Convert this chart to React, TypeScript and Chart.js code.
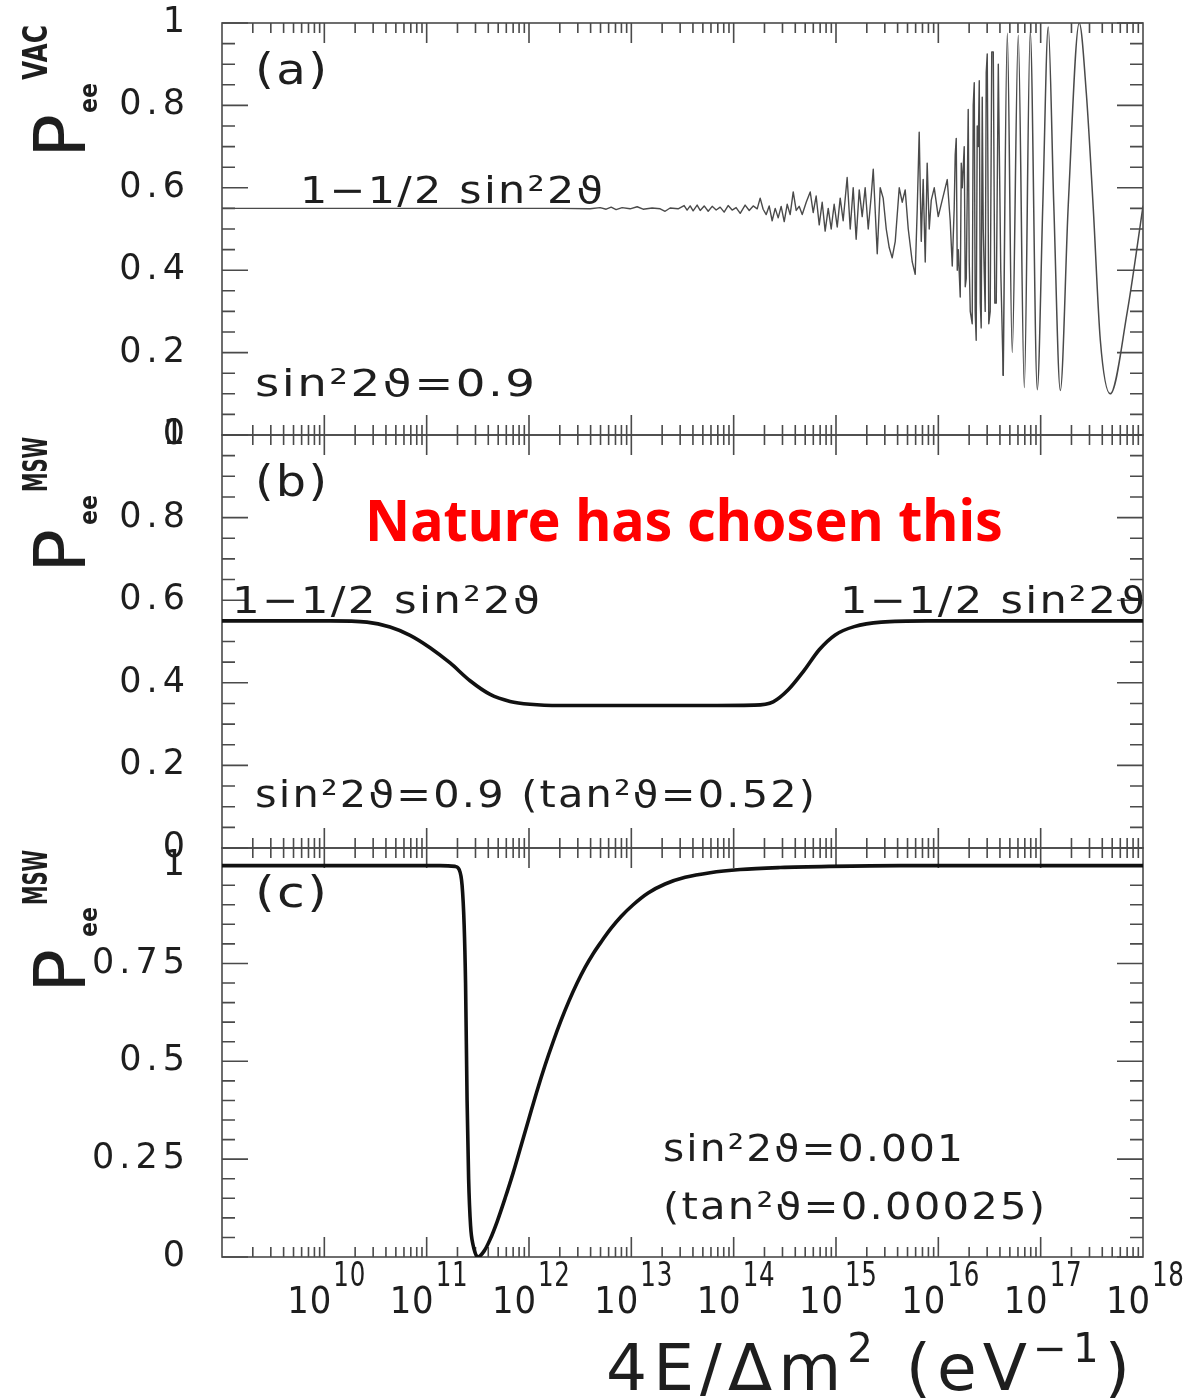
import React, { useEffect, useRef } from "react";
import { Chart, registerables } from "chart.js";

Chart.register(...registerables);

const FONT = "'DejaVu Sans', 'Liberation Sans', sans-serif";
const RED_FONT = "'Noto Sans', 'Open Sans', sans-serif";
const TEXT_COLOR = "#1e1e1e";
const FRAME_COLOR = "#4a4a4a";

// x axis: 4E/Δm² in eV^-1, stored as decimal exponents (x = 10^e)
const X_MIN_EXP = 9;
const X_MAX_EXP = 18;
const xTickExponents = [10, 11, 12, 13, 14, 15, 16, 17, 18];
const yTicksAB = [0, 0.2, 0.4, 0.6, 0.8, 1];
const yTicksC = [0, 0.25, 0.5, 0.75, 1];

// (a) vacuum oscillation, fast / aliased part
const vacNoisyExp = [
  9.0, 10.74, 12.304, 12.597, 12.695, 12.754, 12.803, 12.851, 12.91, 12.988,
  13.057, 13.115, 13.203, 13.282, 13.33, 13.379, 13.457, 13.516, 13.545, 13.575,
  13.604, 13.643, 13.673, 13.712, 13.751, 13.79, 13.829, 13.868, 13.907, 13.946,
  13.985, 14.024, 14.064, 14.112, 14.152, 14.191, 14.23, 14.259, 14.288, 14.318,
  14.347, 14.376, 14.406, 14.435, 14.464, 14.494, 14.523, 14.552, 14.582, 14.611,
  14.64, 14.67, 14.709, 14.748, 14.777, 14.806, 14.836, 14.865, 14.894, 14.924,
  14.953, 14.982, 15.012, 15.041, 15.07, 15.109, 15.139, 15.168, 15.197, 15.227,
  15.256, 15.285, 15.315, 15.344, 15.364, 15.403, 15.432, 15.461, 15.491, 15.52,
  15.549, 15.579, 15.618, 15.647, 15.676, 15.706, 15.745, 15.774, 15.794, 15.813,
  15.833, 15.852, 15.872, 15.891, 15.911, 15.931, 15.96, 15.999, 16.038, 16.087,
  16.116, 16.136, 16.155, 16.165, 16.175, 16.185, 16.195, 16.214, 16.224, 16.234,
  16.253, 16.263, 16.273, 16.292, 16.302, 16.312, 16.331, 16.341, 16.351, 16.36,
  16.37, 16.38, 16.39, 16.4, 16.41, 16.419, 16.429, 16.439, 16.448, 16.458,
  16.468, 16.478, 16.493, 16.507, 16.522, 16.537, 16.552, 16.566, 16.586, 16.61, 16.634,
];
const vacNoisyP = [
  0.55, 0.55, 0.55, 0.549, 0.552, 0.548, 0.553, 0.547, 0.552, 0.549,
  0.554, 0.548, 0.551, 0.549, 0.543, 0.551, 0.549, 0.557, 0.546, 0.556,
  0.544, 0.558, 0.545, 0.556, 0.543, 0.555, 0.546, 0.553, 0.541, 0.557,
  0.546, 0.552, 0.538, 0.558, 0.545, 0.556, 0.549, 0.575, 0.548, 0.535,
  0.556, 0.52, 0.55, 0.527, 0.555, 0.518, 0.56, 0.535, 0.59, 0.545,
  0.555, 0.535, 0.565, 0.59, 0.54, 0.58, 0.51, 0.565, 0.495, 0.55,
  0.5, 0.56, 0.505, 0.575, 0.52, 0.625, 0.5, 0.6, 0.475, 0.595,
  0.53, 0.6, 0.5, 0.58, 0.645, 0.44, 0.6, 0.575, 0.5, 0.455,
  0.43, 0.47, 0.6, 0.565, 0.595, 0.5, 0.42, 0.39, 0.55, 0.735,
  0.47, 0.62, 0.42, 0.66, 0.5, 0.57, 0.6, 0.53, 0.57, 0.62,
  0.52, 0.41, 0.55, 0.68, 0.72, 0.4, 0.45, 0.335, 0.66, 0.6,
  0.7, 0.36, 0.38, 0.79, 0.42, 0.3, 0.27, 0.8, 0.855, 0.3,
  0.23, 0.75, 0.7, 0.86, 0.32, 0.26, 0.82, 0.5, 0.4, 0.3,
  0.88, 0.925, 0.27, 0.3, 0.93, 0.93, 0.32, 0.32, 0.9, 0.4, 0.145,
];

// (a) vacuum oscillation, slow resolved part
const vacSmoothExp = [
  16.634, 16.674, 16.722, 16.781, 16.84, 16.898, 16.967, 17.021, 17.074, 17.128,
  17.192, 17.27, 17.377, 17.446, 17.514, 17.583, 17.68, 17.847, 18.0,
];
const vacSmoothP = [
  0.145, 0.975, 0.2, 0.97, 0.115, 0.98, 0.11, 0.56, 0.99, 0.56,
  0.108, 0.56, 1.0, 0.83, 0.55, 0.23, 0.1, 0.3, 0.555,
];

// (b) MSW, sin²2ϑ = 0.9
const mswLargeExp = [
  9.0, 10.056, 10.417, 10.642, 10.838, 11.033, 11.229, 11.424, 11.62, 11.815,
  12.011, 12.304, 13.673, 14.2, 14.386, 14.533, 14.689, 14.836, 14.992, 15.178,
  15.442, 15.891, 18.0,
];
const mswLargeP = [
  0.55, 0.55, 0.547, 0.535, 0.515, 0.485, 0.448, 0.405, 0.372, 0.355,
  0.348, 0.345, 0.345, 0.346, 0.354, 0.383, 0.43, 0.48, 0.516, 0.536,
  0.547, 0.55, 0.55,
];

// (c) MSW, sin²2ϑ = 0.001
const mswSmallExp = [
  9.0, 11.131, 11.278, 11.317, 11.346, 11.366, 11.38, 11.395, 11.41, 11.429,
  11.454, 11.502, 11.561, 11.62, 11.688, 11.766, 11.845, 11.923, 12.001, 12.079,
  12.157, 12.236, 12.314, 12.392, 12.47, 12.548, 12.627, 12.705, 12.803, 12.9,
  13.018, 13.164, 13.33, 13.526, 13.77, 14.064, 14.455, 14.943, 15.628, 18.0,
];
const mswSmallP = [
  1.0, 1.0, 0.998, 0.99, 0.95, 0.85, 0.7, 0.4, 0.2, 0.08,
  0.03, 0.0, 0.015, 0.045, 0.09, 0.15, 0.215, 0.285, 0.355, 0.425,
  0.49, 0.55, 0.605, 0.655, 0.7, 0.74, 0.775, 0.805, 0.84, 0.87,
  0.9, 0.93, 0.953, 0.97, 0.982, 0.99, 0.995, 0.998, 1.0, 1.0,
];

const toPoints = (ex: number[], p: number[]) =>
  ex.map((e, i) => ({ x: Math.pow(10, e), y: p[i] }));

// draw text stretched horizontally to a given width
function drawFit(
  ctx: CanvasRenderingContext2D,
  s: string,
  x: number,
  y: number,
  size: number,
  width: number,
  ls = 2,
  family = FONT,
  weight = "normal",
  color = TEXT_COLOR
) {
  ctx.save();
  ctx.font = `${weight} ${size}px ${family}`;
  (ctx as any).letterSpacing = `${ls}px`;
  ctx.fillStyle = color;
  ctx.textAlign = "left";
  ctx.textBaseline = "alphabetic";
  const w = ctx.measureText(s).width - ls;
  ctx.translate(x, y);
  ctx.scale(width / w, 1);
  ctx.fillText(s, 0, 0);
  ctx.restore();
}

function drawRotated(
  ctx: CanvasRenderingContext2D,
  s: string,
  xBase: number,
  yStart: number,
  font: string,
  targetLen: number
) {
  ctx.save();
  ctx.translate(xBase, yStart);
  ctx.rotate(-Math.PI / 2);
  ctx.font = font;
  (ctx as any).letterSpacing = "0px";
  const w = ctx.measureText(s).width;
  ctx.scale(targetLen / w, 1);
  ctx.fillStyle = TEXT_COLOR;
  ctx.textAlign = "left";
  ctx.textBaseline = "alphabetic";
  ctx.fillText(s, 0, 0);
  ctx.restore();
}

function drawYTitle(
  ctx: CanvasRenderingContext2D,
  T: number,
  sup: string,
  pOff: number,
  eeOff: number,
  supOff: number
) {
  drawRotated(ctx, "P", 85, T + pOff, `72px ${FONT}`, 44);
  drawRotated(ctx, "ee", 97, T + eeOff, `bold 24px ${FONT}`, 30);
  drawRotated(ctx, sup, 47, T + supOff, `bold 34px ${FONT}`, 55);
}

type PanelDef = {
  id: string;
  top: number;
  height: number;
  padTop: number;
  padBottom: number;
  yMax: number;
  yTicks: number[];
  datasets: any[];
  decorate: (ctx: CanvasRenderingContext2D, area: any, chart: any) => void;
};

function drawFrameAndTicks(chart: any, panel: PanelDef) {
  const { ctx, chartArea: a, scales } = chart;
  const xs = scales.x;
  const ys = scales.y;
  ctx.save();
  ctx.letterSpacing = "0px";
  ctx.strokeStyle = FRAME_COLOR;
  ctx.lineWidth = 1.6;
  ctx.strokeRect(a.left, a.top, a.right - a.left, a.bottom - a.top);
  ctx.beginPath();
  const step = 0.05;
  for (let i = 0; i * step <= panel.yMax + 1e-9; i++) {
    const v = Math.round(i * step * 1000) / 1000;
    const major = panel.yTicks.some((t) => Math.abs(t - v) < 1e-6);
    const len = major ? 26 : 13;
    const py = ys.getPixelForValue(v);
    ctx.moveTo(a.left, py);
    ctx.lineTo(a.left + len, py);
    ctx.moveTo(a.right, py);
    ctx.lineTo(a.right - len, py);
  }
  for (let e = X_MIN_EXP; e < X_MAX_EXP; e++) {
    for (let k = 1; k <= 9; k++) {
      if (e === X_MIN_EXP && k === 1) continue;
      const px = xs.getPixelForValue(k * Math.pow(10, e));
      const len = k === 1 ? 20 : 10;
      ctx.moveTo(px, a.top);
      ctx.lineTo(px, a.top + len);
      ctx.moveTo(px, a.bottom);
      ctx.lineTo(px, a.bottom - len);
    }
  }
  ctx.stroke();
  ctx.restore();
}

const lineBase = {
  pointRadius: 0,
  fill: false,
  borderJoinStyle: "round",
  borderCapStyle: "round",
};

const FORMULA = "1\u22121/2 sin\u00b22\u03d1";

const panels: PanelDef[] = [
  {
    id: "a",
    top: 0,
    height: 470,
    padTop: 23,
    padBottom: 35,
    yMax: 1,
    yTicks: yTicksAB,
    datasets: [
      {
        ...lineBase,
        data: toPoints(vacNoisyExp, vacNoisyP),
        borderColor: "#4a4a4a",
        borderWidth: 1.4,
        tension: 0,
      },
      {
        ...lineBase,
        data: toPoints(vacSmoothExp, vacSmoothP),
        borderColor: "#4a4a4a",
        borderWidth: 1.5,
        cubicInterpolationMode: "monotone",
      },
    ],
    decorate: (ctx, a) => {
      const L = a.left;
      const T = a.top;
      drawFit(ctx, "(a)", L + 33, T + 61, 42, 72);
      drawFit(ctx, FORMULA, L + 78, T + 180, 38, 303);
      drawFit(ctx, "sin\u00b22\u03d1=0.9", L + 33, T + 373, 38, 280);
      drawYTitle(ctx, T, "VAC", 135, 90, 57);
    },
  },
  {
    id: "b",
    top: 400,
    height: 480,
    padTop: 35,
    padBottom: 32,
    yMax: 1,
    yTicks: yTicksAB,
    datasets: [
      {
        ...lineBase,
        data: toPoints(mswLargeExp, mswLargeP),
        borderColor: "#111111",
        borderWidth: 3.6,
        cubicInterpolationMode: "monotone",
      },
    ],
    decorate: (ctx, a) => {
      const L = a.left;
      const T = a.top;
      drawFit(ctx, "(b)", L + 33, T + 61, 42, 72);
      drawFit(ctx, FORMULA, L + 10, T + 178, 38, 308);
      drawFit(ctx, FORMULA, L + 618, T + 178, 38, 305);
      drawFit(ctx, "sin\u00b22\u03d1=0.9 (tan\u00b2\u03d1=0.52)", L + 33, T + 372, 38, 560);
      drawFit(ctx, "Nature has chosen this", L + 143, T + 106, 57, 638, 0, RED_FONT, "bold", "#ff0000");
      drawYTitle(ctx, T, "MSW", 138, 90, 57);
    },
  },
  {
    id: "c",
    top: 815,
    height: 584,
    padTop: 33,
    padBottom: 142,
    yMax: 1.045,
    yTicks: yTicksC,
    datasets: [
      {
        ...lineBase,
        data: toPoints(mswSmallExp, mswSmallP),
        borderColor: "#111111",
        borderWidth: 3.6,
        cubicInterpolationMode: "monotone",
      },
    ],
    decorate: (ctx, a, chart) => {
      const L = a.left;
      const T = a.top;
      const B = a.bottom;
      drawFit(ctx, "(c)", L + 33, T + 59, 42, 72);
      drawFit(ctx, "sin\u00b22\u03d1=0.001", L + 441, T + 313, 38, 300);
      drawFit(ctx, "(tan\u00b2\u03d1=0.00025)", L + 441, T + 371, 38, 382);
      drawYTitle(ctx, T, "MSW", 145, 89, 57);
      // x tick labels 10^n
      const xs = chart.scales.x;
      for (const e of xTickExponents) {
        const px = xs.getPixelForValue(Math.pow(10, e));
        const w1 = 44;
        const w2 = 32;
        const start = px - (w1 + w2) / 2 + 1;
        drawFit(ctx, "10", start, B + 56, 38, w1, 1);
        drawFit(ctx, String(e), start + w1 + 2, B + 29, 33, w2, 1);
      }
      // x axis title: 4E/Δm² (eV⁻¹)
      const parts: [string, number, number][] = [
        ["4E/\u0394m", 64, 0],
        ["2", 40, -28],
        [" (eV", 64, 0],
        ["\u22121", 40, -28],
        [")", 64, 0],
      ];
      const ls = 6;
      const widths = parts.map(([s, size]) => {
        ctx.font = `${size}px ${FONT}`;
        (ctx as any).letterSpacing = `${ls}px`;
        return ctx.measureText(s).width;
      });
      const total = widths.reduce((p, c) => p + c, 0);
      const k = 530 / total;
      let x = 606;
      parts.forEach(([s, size, dy], i) => {
        drawFit(ctx, s, x, B + 133 + dy, size, (widths[i] - ls) * k, ls);
        x += widths[i] * k;
      });
    },
  },
];

function PanelCanvas({ panel }: { panel: PanelDef }) {
  const ref = useRef<HTMLCanvasElement | null>(null);
  useEffect(() => {
    const canvas = ref.current;
    if (!canvas) return;
    const decor = {
      id: "decor-" + panel.id,
      beforeDraw(chart: any) {
        chart.ctx.letterSpacing = "5px";
      },
      beforeDatasetsDraw(chart: any) {
        chart.ctx.letterSpacing = "0px";
        drawFrameAndTicks(chart, panel);
      },
      afterDraw(chart: any) {
        const ctx = chart.ctx;
        ctx.save();
        panel.decorate(ctx, chart.chartArea, chart);
        ctx.restore();
        ctx.letterSpacing = "0px";
      },
    };
    const chart = new Chart(canvas, {
      type: "line",
      data: { datasets: panel.datasets },
      options: {
        animation: false,
        responsive: false,
        maintainAspectRatio: false,
        devicePixelRatio: 1,
        events: [],
        layout: {
          padding: { left: 0, right: 61, top: panel.padTop, bottom: panel.padBottom },
        },
        plugins: {
          legend: { display: false },
          tooltip: { enabled: false },
        },
        scales: {
          x: {
            type: "logarithmic",
            min: Math.pow(10, X_MIN_EXP),
            max: Math.pow(10, X_MAX_EXP),
            display: false,
          },
          y: {
            type: "linear",
            min: 0,
            max: panel.yMax,
            display: true,
            afterBuildTicks: (s: any) => {
              s.ticks = panel.yTicks.map((v) => ({ value: v }));
            },
            afterFit: (s: any) => {
              s.width = 222;
              s.paddingTop = 0;
              s.paddingBottom = 0;
            },
            grid: { display: false, drawTicks: false },
            border: { display: false },
            ticks: {
              autoSkip: false,
              padding: 32,
              color: TEXT_COLOR,
              font: { family: FONT, size: 35 },
              callback: (v: any) => String(Math.round(Number(v) * 100) / 100),
            },
          },
        },
      } as any,
      plugins: [decor],
    });
    return () => chart.destroy();
  }, [panel]);
  return (
    <canvas
      ref={ref}
      width={1204}
      height={panel.height}
      style={{ position: "absolute", left: 0, top: panel.top, width: 1204, height: panel.height }}
    />
  );
}

export default function App() {
  return (
    <div
      style={{
        position: "absolute",
        left: 0,
        top: 0,
        width: 1204,
        height: 1399,
        background: "#ffffff",
        overflow: "hidden",
      }}
    >
      {panels.map((p) => (
        <PanelCanvas key={p.id} panel={p} />
      ))}
    </div>
  );
}
